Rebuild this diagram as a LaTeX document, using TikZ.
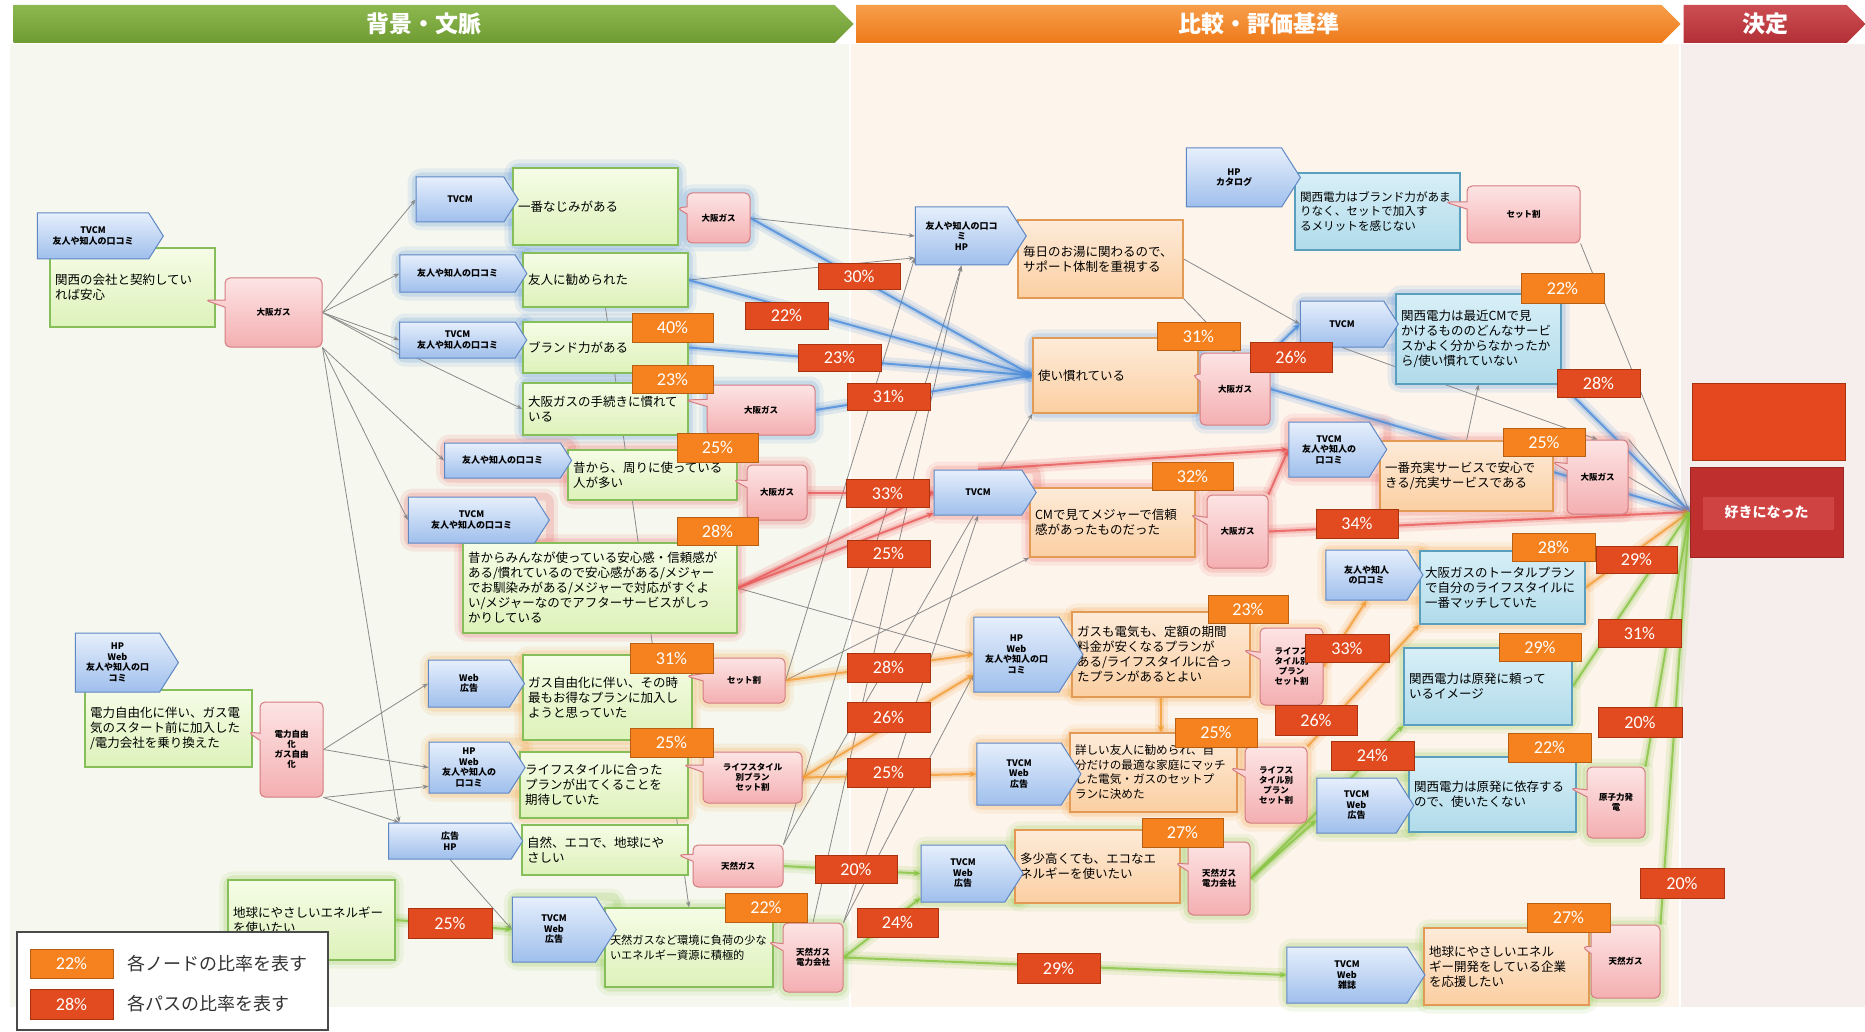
\documentclass[tikz,border=0pt]{standalone}
\usepackage{fontspec}
\setmainfont{Noto Sans CJK JP}
\newfontfamily\pctfont{Carlito}
\usetikzlibrary{shapes.symbols,shapes.callouts,arrows.meta}

\definecolor{panelG}{HTML}{F6F7EE}
\definecolor{panelO}{HTML}{FDF4EC}
\definecolor{panelR}{HTML}{F6EEEC}
\definecolor{hdrG}{HTML}{6E9B32}\definecolor{hdrGt}{HTML}{8DB850}
\definecolor{hdrO}{HTML}{EE7A1A}\definecolor{hdrOt}{HTML}{F79E4A}
\definecolor{hdrR}{HTML}{B22F36}\definecolor{hdrRt}{HTML}{CC4E52}
\definecolor{srcT}{HTML}{E6EFFC}\definecolor{srcB}{HTML}{9FBFEC}\definecolor{srcE}{HTML}{5F87C4}
\definecolor{grnT}{HTML}{F6FCE6}\definecolor{grnB}{HTML}{DDF2BA}\definecolor{grnE}{HTML}{86BE5A}
\definecolor{orgT}{HTML}{FEEBD9}\definecolor{orgB}{HTML}{FBCFA2}\definecolor{orgE}{HTML}{E39A55}
\definecolor{tealT}{HTML}{D8EFF7}\definecolor{tealB}{HTML}{B0DBEA}\definecolor{tealE}{HTML}{5A9FBD}
\definecolor{pnkT}{HTML}{FDE4E4}\definecolor{pnkB}{HTML}{F4AFB2}\definecolor{pnkE}{HTML}{D47C80}
\definecolor{pctN}{HTML}{F5821F}\definecolor{pctNe}{HTML}{B85F14}
\definecolor{pctP}{HTML}{E14B1F}\definecolor{pctPe}{HTML}{A8330F}
\definecolor{glB}{HTML}{4A8BDB}\definecolor{glR}{HTML}{E85A5A}
\definecolor{glO}{HTML}{F39C34}\definecolor{glG}{HTML}{86C440}
\definecolor{decR}{HTML}{BE2F2E}\definecolor{decIn}{HTML}{CF4343}
\definecolor{decTopC}{HTML}{E5481F}
\definecolor{lineG}{HTML}{8A8A8A}
\definecolor{legE}{HTML}{4A4A4A}

\pgfdeclarelayer{bg}\pgfdeclarelayer{halo}\pgfdeclarelayer{edges}
\pgfsetlayers{bg,halo,edges,main}

% node from its corner coordinates: style, x1, y1, x2, y2, name, text
\newcommand\mkn[7]{%
  \pgfmathsetmacro\pw{#4-#2}\pgfmathsetmacro\ph{#5-#3}%
  \pgfmathsetmacro\ptw{#4-#2-10}%
  \node[#1, minimum width=\pw pt, minimum height=\ph pt] (#6) at ({(#2+#4)/2},{(#3+#5)/2}) {#7};}
\newcommand\smallfs{\fontsize{11.2}{14}\selectfont}

\tikzset{
  gbox/.style={rectangle, draw=grnE, line width=1.2pt, top color=grnT, bottom color=grnB,
    text width=\ptw pt, align=left, inner sep=4pt, font=\fontsize{12.5}{15}\selectfont},
  obox/.style={gbox, draw=orgE, top color=orgT, bottom color=orgB},
  tbox/.style={gbox, draw=tealE, top color=tealT, bottom color=tealB},
  src/.style={signal, signal to=east, signal pointer angle=115, draw=srcE, line width=1pt,
    top color=srcT, bottom color=srcB, align=center, inner sep=1pt, xshift=-6pt,
    font=\bfseries\fontsize{9}{10.5}\selectfont},
  call/.style={rectangle callout, draw=pnkE, line width=1pt, rounded corners=5pt,
    top color=pnkT, bottom color=pnkB, align=center, inner sep=1pt,
    font=\bfseries\fontsize{8.5}{10}\selectfont},
  pctnode/.style={rectangle, fill=pctN, draw=pctNe, line width=0.8pt, text=white,
    inner sep=0pt, font=\pctfont\fontsize{18}{18}\selectfont},
  pctpath/.style={pctnode, fill=pctP, draw=pctPe},
  ge/.style={draw=lineG, line width=0.8pt, -{Stealth[length=6pt,width=4.5pt]}},
  gl/.style={draw=#1, line width=2pt, draw opacity=0.8, -{Stealth[length=7pt,width=6pt]},
    preaction={draw=#1, draw opacity=0.14, line width=13pt, -},
    preaction={draw=#1, draw opacity=0.22, line width=6pt, -}},
  halo/.style={draw=#1, rounded corners=6pt, line width=16pt, draw opacity=0.10,
    preaction={draw=#1, line width=8pt, draw opacity=0.18}},
  hdr/.style={signal, signal to=east, signal pointer angle=90, text=white,
    font=\bfseries\fontsize{23}{23}\selectfont, inner sep=0pt, minimum height=38pt},
}

\begin{document}
\begin{tikzpicture}[x=1pt,y=-1pt]
\useasboundingbox (0,0) rectangle (1865,1032);

% three column panels
\begin{pgfonlayer}{bg}
  \fill[white] (0,0) rectangle (1865,1032);
  \fill[panelG] (10,44) rectangle (849,1007);
  \fill[panelO] (851,44) rectangle (1679,1007);
  \fill[panelR] (1681,44) rectangle (1865,1007);
\end{pgfonlayer}

% column headers
\node[hdr, top color=hdrGt, bottom color=hdrG, minimum width=840pt] (hdr_bg) at (424,24) {背景・文脈};
\node[hdr, top color=hdrOt, bottom color=hdrO, minimum width=824pt] (hdr_cmp) at (1259,24) {比較・評価基準};
\node[hdr, top color=hdrRt, bottom color=hdrR, minimum width=182pt] (hdr_dec) at (1765,24) {決定};

% ---------- background / context boxes ----------
\mkn{gbox}{50}{248}{215}{327}{g_kansai}{関西の会社と契約してい\\れば安心}
\mkn{gbox}{513}{168}{678}{245}{g_najimi}{一番なじみがある}
\mkn{gbox}{523}{253}{688}{307}{g_friend}{友人に勧められた}
\mkn{gbox}{523}{322}{688}{373}{g_brand}{ブランド力がある}
\mkn{gbox}{523}{383}{688}{435}{g_tetsu}{大阪ガスの手続きに慣れて\\いる}
\mkn{gbox}{568}{450}{737}{500}{g_mukashi}{昔から、周りに使っている\\人が多い}
\mkn{gbox}{463}{543}{737}{633}{g_anshin}{昔からみんなが使っている安心感・信頼感が\\ある/慣れているので安心感がある/メジャー\\でお馴染みがある/メジャーで対応がすぐよ\\い/メジャーなのでアフターサービスがしっ\\かりしている}
\mkn{gbox}{85}{690}{252}{767}{g_denryoku}{電力自由化に伴い、ガス電\\気のスタート前に加入した\\/電力会社を乗り換えた}
\mkn{gbox}{228}{880}{395}{960}{g_chikyu}{地球にやさしいエネルギー\\を使いたい}
\mkn{gbox}{523}{655}{692}{740}{g_gas}{ガス自由化に伴い、その時\\最もお得なプランに加入し\\ようと思っていた}
\mkn{gbox}{520}{752}{688}{818}{g_life}{ライフスタイルに合った\\プランが出てくることを\\期待していた}
\mkn{gbox}{522}{825}{688}{875}{g_eco}{自然、エコで、地球にや\\さしい}
\mkn{gbox}{605}{908}{773}{987}{g_tennen}{\smallfs 天然ガスなど環境に負荷の少な\\いエネルギー資源に積極的}

% ---------- comparison / evaluation boxes ----------
\mkn{obox}{1018}{220}{1183}{298}{o_support}{毎日のお湯に関わるので、\\サポート体制を重視する}
\mkn{tbox}{1295}{173}{1460}{250}{t_brand}{\fontsize{11.6}{14}\selectfont 関西電力はブランド力があま\\りなく、セットで加入す\\るメリットを感じない}
\mkn{obox}{1033}{338}{1198}{413}{o_nare}{使い慣れている}
\mkn{tbox}{1396}{294}{1561}{384}{t_cm}{関西電力は最近CMで見\\かけるもののどんなサービ\\スかよく分からなかったか\\ら/使い慣れていない}
\mkn{obox}{1380}{441}{1553}{511}{o_juujitsu}{一番充実サービスで安心で\\きる/充実サービスである}
\mkn{tbox}{1420}{551}{1585}{624}{t_total}{大阪ガスのトータルプラン\\で自分のライフスタイルに\\一番マッチしていた}
\mkn{tbox}{1404}{648}{1572}{725}{t_genpatsu}{関西電力は原発に頼って\\いるイメージ}
\mkn{obox}{1030}{488}{1195}{557}{o_cm}{CMで見てメジャーで信頼\\感があったものだった}
\mkn{obox}{1072}{612}{1250}{697}{o_plan}{ガスも電気も、定額の期間\\料金が安くなるプランが\\ある/ライフスタイルに合っ\\たプランがあるとよい}
\mkn{obox}{1070}{733}{1237}{812}{o_kuwashii}{\fontsize{11.6}{14.5}\selectfont 詳しい友人に勧められ、自\\分だけの最適な家庭にマッチ\\した電気・ガスのセットプ\\ランに決めた}
\mkn{obox}{1015}{830}{1180}{903}{o_eco}{多少高くても、エコなエ\\ネルギーを使いたい}
\mkn{tbox}{1409}{757}{1576}{832}{t_genpatsu2}{関西電力は原発に依存する\\ので、使いたくない}
\mkn{obox}{1424}{928}{1589}{1005}{o_chikyu}{地球にやさしいエネル\\ギー開発をしている企業\\を応援したい}

% ---------- information sources ----------
\mkn{src}{36}{213}{162}{259}{s_tvfr0}{TVCM\\友人や知人の口コミ}
\mkn{src}{415}{177}{517}{222}{s_tv1}{TVCM}
\mkn{src}{400}{255}{527}{292}{s_fr1}{友人や知人の口コミ}
\mkn{src}{400}{322}{527}{358}{s_tvfr1}{TVCM\\友人や知人の口コミ}
\mkn{src}{445}{443}{572}{478}{s_fr2}{友人や知人の口コミ}
\mkn{src}{407}{497}{548}{543}{s_tvfr2}{TVCM\\友人や知人の口コミ}
\mkn{src}{72}{633}{175}{692}{s_hpw0}{HP\\Web\\友人や知人の口\\コミ}
\mkn{src}{389}{823}{523}{859}{s_ad}{広告\\HP}
\mkn{src}{427}{660}{523}{707}{s_web}{Web\\広告}
\mkn{src}{427}{742}{523}{793}{s_hpw1}{HP\\Web\\友人や知人の\\口コミ}
\mkn{src}{508}{897}{612}{962}{s_tvw1}{TVCM\\Web\\広告}
\mkn{src}{912}{207}{1023}{265}{s_frhp}{友人や知人の口コ\\ミ\\HP}
\mkn{src}{1183}{148}{1297}{207}{s_hpcat}{HP\\カタログ}
\mkn{src}{1299}{301}{1397}{347}{s_tv2}{TVCM}
\mkn{src}{1286}{422}{1384}{477}{s_tvfr3}{TVCM\\友人や知人の\\口コミ}
\mkn{src}{1324}{550}{1421}{600}{s_fr3}{友人や知人\\の口コミ}
\mkn{src}{933}{470}{1035}{515}{s_tv3}{TVCM}
\mkn{src}{968}{617}{1077}{692}{s_hpw2}{HP\\Web\\友人や知人の口\\コミ}
\mkn{src}{973}{743}{1077}{805}{s_tvw2}{TVCM\\Web\\広告}
\mkn{src}{918}{845}{1020}{902}{s_tvw3}{TVCM\\Web\\広告}
\mkn{src}{1284}{947}{1422}{1003}{s_tvw4}{TVCM\\Web\\雑誌}
\mkn{src}{1314}{778}{1411}{833}{s_tvw5}{TVCM\\Web\\広告}

% ---------- keyword callouts ----------
\mkn{call, callout absolute pointer={(205,300)}}{225}{278}{322}{347}{p_osaka0}{大阪ガス}
\mkn{call, callout absolute pointer={(677,208)}}{687}{193}{750}{243}{p_osaka1}{大阪ガス}
\mkn{call, callout absolute pointer={(685,400)}}{707}{385}{815}{435}{p_osaka2}{大阪ガス}
\mkn{call, callout absolute pointer={(733,480)}}{747}{465}{807}{520}{p_osaka3}{大阪ガス}
\mkn{call, callout absolute pointer={(248,732)}}{260}{702}{323}{797}{p_jiyu}{電力自由\\化\\ガス自由\\化}
\mkn{call, callout absolute pointer={(686,676)}}{703}{658}{785}{703}{p_set1}{セット割}
\mkn{call, callout absolute pointer={(683,765)}}{703}{752}{802}{803}{p_life1}{ライフスタイル\\別プラン\\セット割}
\mkn{call, callout absolute pointer={(678,855)}}{693}{845}{783}{887}{p_tennen1}{天然ガス}
\mkn{call, callout absolute pointer={(768,942)}}{783}{923}{843}{992}{p_tennen2}{天然ガス\\電力会社}
\mkn{call, callout absolute pointer={(1445,202)}}{1467}{186}{1580}{243}{p_set2}{セット割}
\mkn{call, callout absolute pointer={(1192,375)}}{1200}{353}{1270}{425}{p_osaka4}{大阪ガス}
\mkn{call, callout absolute pointer={(1552,462)}}{1567}{440}{1628}{514}{p_osaka6}{大阪ガス}
\mkn{call, callout absolute pointer={(1190,515)}}{1207}{495}{1268}{568}{p_osaka5}{大阪ガス}
\mkn{call, callout absolute pointer={(1243,650)}}{1260}{628}{1323}{705}{p_life2}{ライフス\\タイル別\\プラン\\セット割}
\mkn{call, callout absolute pointer={(1230,768)}}{1245}{747}{1307}{823}{p_life3}{ライフス\\タイル別\\プラン\\セット割}
\mkn{call, callout absolute pointer={(1175,863)}}{1188}{842}{1250}{915}{p_tennen3}{天然ガス\\電力会社}
\mkn{call, callout absolute pointer={(1570,788)}}{1587}{767}{1645}{838}{p_genshi}{原子力発\\電}
\mkn{call, callout absolute pointer={(1582,947)}}{1591}{925}{1660}{998}{p_tennen4}{天然ガス}

% ---------- decision ----------
\mkn{rectangle, fill=decTopC, draw=pctPe, line width=1pt}{1692}{383}{1845}{460}{dec_top}{}
\mkn{rectangle, fill=decR, draw=decR!80!black, line width=1pt, text=white,
  font=\bfseries\fontsize{14}{14}\selectfont,
  path picture={\fill[decIn] ([xshift=13pt,yshift=-30pt]path picture bounding box.north west)
     rectangle ([xshift=-9pt,yshift=27pt]path picture bounding box.south east);}}
  {1690}{467}{1843}{557}{dec}{好きになった}

% ---------- glows around highlighted groups ----------
\begin{pgfonlayer}{halo}
  \foreach \n in {s_tv1,g_najimi,p_osaka1,s_fr1,g_friend,s_tvfr1,g_brand,g_tetsu,p_osaka2,o_nare,p_osaka4,s_tv2,t_cm}
    \path[halo=glB] (\n.west |- \n.north) rectangle (\n.east |- \n.south);
  \foreach \n in {s_fr2,g_mukashi,p_osaka3,s_tvfr2,g_anshin,s_tv3,o_cm,p_osaka5,s_tvfr3,o_juujitsu,p_osaka6}
    \path[halo=glR] (\n.west |- \n.north) rectangle (\n.east |- \n.south);
  \foreach \n in {s_web,g_gas,p_set1,s_hpw1,g_life,p_life1,s_hpw2,o_plan,p_life2,s_tvw2,o_kuwashii,p_life3,s_fr3,t_total}
    \path[halo=glO] (\n.west |- \n.north) rectangle (\n.east |- \n.south);
  \foreach \n in {s_tvw1,g_tennen,p_tennen2,g_chikyu,s_tvw3,o_eco,p_tennen3,s_tvw4,o_chikyu,p_tennen4,t_genpatsu,s_tvw5,t_genpatsu2,p_genshi}
    \path[halo=glG] (\n.west |- \n.north) rectangle (\n.east |- \n.south);
\end{pgfonlayer}

% ---------- connectors ----------
\begin{pgfonlayer}{edges}
  % plain links
  \draw[ge] (p_osaka0.east) -- (s_tv1.west);
  \draw[ge] (p_osaka0.east) -- (s_fr1.west);
  \draw[ge] (p_osaka0.east) -- (s_tvfr1.west);
  \draw[ge] (p_osaka0.east) -- (s_tvfr1.200);
  \draw[ge] (p_osaka0.east) -- (g_tetsu.west);
  \draw[ge] (p_osaka0.south east) -- (s_fr2.west);
  \draw[ge] (p_osaka0.south east) -- (s_tvfr2.west);
  \draw[ge] (p_osaka0.south east) -- (s_ad.160);
  \draw[ge] (p_jiyu.east) -- (s_web.west);
  \draw[ge] (p_jiyu.east) -- (s_hpw1.west);
  \draw[ge] (p_jiyu.south east) -- (s_hpw1.205);
  \draw[ge] (p_jiyu.south east) -- (s_ad.160);
  \draw[ge] (s_ad.south) -- (s_tvw1.west);
  \draw[ge] (g_friend.south) -- (g_tennen.north);
  \draw[ge] (p_osaka1.east) -- (s_frhp.west);
  \draw[ge] (g_friend.east) -- (s_frhp.205);
  \draw[ge] (p_set1.east) -- (s_frhp.205);
  \draw[ge] (p_tennen1.north east) -- (s_frhp.south);
  \draw[ge] (p_tennen2.north) -- (s_frhp.south);
  \draw[ge] (p_tennen2.north east) -- (s_tv3.south);
  \draw[ge] (p_tennen2.north east) -- (s_hpw2.205);
  \draw[ge] (g_anshin.east) -- (s_hpw2.west);
  \draw[ge] (p_set1.east) -- (o_cm.south west);
  \draw[ge] (p_tennen1.north east) -- (o_nare.south west);
  \draw[ge] (o_support.east) -- (s_tv2.west);
  \draw[ge] (o_support.south east) -- (p_osaka4.north);
  \draw[ge] (p_set2.south east) -- (dec.west);
  \draw[ge] (s_tv2.south) -- (p_osaka6.north);
  \draw[ge] (p_osaka6.east) -- (dec.west);
  \draw[ge] (p_osaka6.north east) -- (dec.west);
  \draw[ge] (o_juujitsu.north) -- (t_cm.south);
  % highlighted paths
  \draw[gl=glB] (p_osaka1.east) -- (o_nare.west);
  \draw[gl=glB] (g_friend.east) -- (o_nare.west);
  \draw[gl=glB] (g_brand.east) -- (o_nare.west);
  \draw[gl=glB] (p_osaka2.east) -- (o_nare.west);
  \draw[gl=glB] (p_osaka4.north east) -- (s_tv2.west);
  \draw[gl=glB] (t_cm.south east) -- (dec.west);
  \draw[gl=glB] (p_osaka4.east) -- (dec.west);
  \draw[gl=glR] (p_osaka3.east) -- (s_tv3.west);
  \draw[gl=glR] (g_anshin.east) -- (s_tv3.205);
  \draw[gl=glR] (g_anshin.east) -- (s_tv3.west);
  \draw[gl=glR] (s_tv3.north) -- (s_tvfr3.west);
  \draw[gl=glR] (p_osaka5.north east) -- (s_tvfr3.west);
  \draw[gl=glR] (p_osaka5.east) -- (dec.west);
  \draw[gl=glO] (p_set1.east) -- (s_hpw2.west);
  \draw[gl=glO] (p_life1.east) -- (s_hpw2.205);
  \draw[gl=glO] (p_life1.east) -- (s_tvw2.west);
  \draw[gl=glO] (o_plan.south) -- (o_plan.south |- o_kuwashii.north);
  \draw[gl=glO] (p_life2.east) -- (s_fr3.south);
  \draw[gl=glO] (p_life3.north east) -- (t_total.south west);
  \draw[gl=glO] (t_total.east) -- (dec.west);
  \draw[gl=glG] (g_chikyu.east) -- (s_tvw1.west);
  \draw[gl=glG] (p_tennen1.east) -- (s_tvw3.west);
  \draw[gl=glG] (p_tennen2.east) -- (s_tvw3.210);
  \draw[gl=glG] (p_tennen2.east) -- (s_tvw4.west);
  \draw[gl=glG] (p_tennen3.east) -- (t_genpatsu.south west);
  \draw[gl=glG] (p_tennen3.east) -- (s_tvw5.200);
  \draw[gl=glG] (t_genpatsu.east) -- (dec.west);
  \draw[gl=glG] (p_genshi.north east) -- (dec.west);
  \draw[gl=glG] (p_tennen4.north east) -- (dec.west);
\end{pgfonlayer}

% ---------- share of each node ----------
\mkn{pctnode}{632}{313}{713}{342}{np_brand}{40\%}
\mkn{pctnode}{632}{365}{713}{393}{np_tetsu}{23\%}
\mkn{pctnode}{677}{433}{758}{462}{np_mukashi}{25\%}
\mkn{pctnode}{677}{517}{758}{545}{np_anshin}{28\%}
\mkn{pctnode}{630}{643}{713}{673}{np_gas}{31\%}
\mkn{pctnode}{630}{728}{713}{757}{np_life}{25\%}
\mkn{pctnode}{725}{893}{807}{922}{np_tennen}{22\%}
\mkn{pctnode}{1157}{322}{1240}{350}{np_nare}{31\%}
\mkn{pctnode}{1521}{273}{1604}{303}{np_cm}{22\%}
\mkn{pctnode}{1503}{428}{1585}{456}{np_juujitsu}{25\%}
\mkn{pctnode}{1152}{462}{1233}{490}{np_ocm}{32\%}
\mkn{pctnode}{1208}{595}{1288}{623}{np_plan}{23\%}
\mkn{pctnode}{1512}{533}{1595}{561}{np_total}{28\%}
\mkn{pctnode}{1499}{633}{1581}{661}{np_genpatsu}{29\%}
\mkn{pctnode}{1175}{718}{1257}{747}{np_kuwashii}{25\%}
\mkn{pctnode}{1142}{818}{1223}{847}{np_eco}{27\%}
\mkn{pctnode}{1508}{733}{1591}{762}{np_genpatsu2}{22\%}
\mkn{pctnode}{1527}{903}{1610}{932}{np_chikyu}{27\%}

% ---------- share of each path ----------
\mkn{pctpath}{818}{263}{900}{289}{pp1}{30\%}
\mkn{pctpath}{745}{302}{828}{329}{pp2}{22\%}
\mkn{pctpath}{798}{344}{881}{371}{pp3}{23\%}
\mkn{pctpath}{847}{383}{930}{410}{pp4}{31\%}
\mkn{pctpath}{846}{479}{929}{507}{pp5}{33\%}
\mkn{pctpath}{847}{540}{930}{567}{pp6}{25\%}
\mkn{pctpath}{847}{653}{930}{682}{pp7}{28\%}
\mkn{pctpath}{847}{702}{930}{732}{pp8}{26\%}
\mkn{pctpath}{847}{758}{930}{787}{pp9}{25\%}
\mkn{pctpath}{815}{855}{897}{883}{pp10}{20\%}
\mkn{pctpath}{857}{908}{938}{937}{pp11}{24\%}
\mkn{pctpath}{1017}{953}{1100}{983}{pp12}{29\%}
\mkn{pctpath}{408}{908}{492}{938}{pp13}{25\%}
\mkn{pctpath}{1250}{342}{1332}{372}{pp14}{26\%}
\mkn{pctpath}{1557}{369}{1640}{397}{pp15}{28\%}
\mkn{pctpath}{1316}{509}{1398}{538}{pp16}{34\%}
\mkn{pctpath}{1305}{634}{1389}{662}{pp17}{33\%}
\mkn{pctpath}{1275}{705}{1357}{735}{pp18}{26\%}
\mkn{pctpath}{1331}{741}{1414}{770}{pp19}{24\%}
\mkn{pctpath}{1596}{546}{1677}{573}{pp20}{29\%}
\mkn{pctpath}{1598}{619}{1681}{647}{pp21}{31\%}
\mkn{pctpath}{1598}{707}{1682}{737}{pp22}{20\%}
\mkn{pctpath}{1640}{868}{1724}{898}{pp23}{20\%}

% ---------- legend ----------
\node[draw=legE, line width=1.6pt, fill=white, minimum width=311pt, minimum height=98pt, inner sep=0pt] (legend) at (172.5,981) {};
\mkn{pctnode}{30}{949}{113}{978}{leg_node}{22\%}
\mkn{pctpath}{30}{989}{113}{1019}{leg_path}{28\%}
\node[anchor=west, inner sep=0pt, text=black!80, font=\fontsize{18}{18}\selectfont] (leg_node_t) at (127,964) {各ノードの比率を表す};
\node[anchor=west, inner sep=0pt, text=black!80, font=\fontsize{18}{18}\selectfont] (leg_path_t) at (127,1004) {各パスの比率を表す};
\end{tikzpicture}
\end{document}
